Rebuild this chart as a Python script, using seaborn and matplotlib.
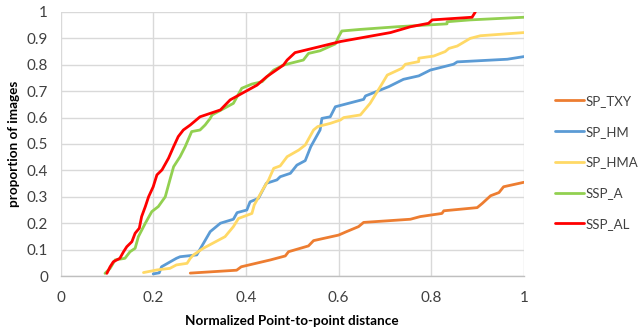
import numpy as np
import pandas as pd
import matplotlib
matplotlib.use("Agg")
import matplotlib.pyplot as plt
import seaborn as sns

series_names = ["SP_TXY", "SP_HM", "SP_HMA", "SSP_A", "SSP_AL"]
colors = ["#ED7D31", "#5B9BD5", "#FFD966", "#92D050", "#FF0000"]

txy_x = [0.28, 0.38, 0.39, 0.453, 0.485, 0.492, 0.535, 0.546, 0.600, 0.617, 0.643, 0.654,
         0.755, 0.776, 0.823, 0.827, 0.899, 0.910, 0.928, 0.946, 0.956, 1.0]
txy_y = [0.011, 0.022, 0.035, 0.061, 0.076, 0.092, 0.114, 0.134, 0.155, 0.168, 0.187, 0.203,
         0.215, 0.225, 0.237, 0.247, 0.259, 0.275, 0.304, 0.316, 0.338, 0.355]

hm_x = [0.200, 0.213, 0.218, 0.250, 0.258, 0.294, 0.323, 0.345, 0.373, 0.381, 0.402, 0.409,
        0.427, 0.444, 0.467, 0.474, 0.496, 0.510, 0.528, 0.540, 0.560, 0.564, 0.582, 0.593,
        0.654, 0.658, 0.708, 0.740, 0.773, 0.798, 0.848, 0.856, 0.964, 1.0]
hm_y = [0.008, 0.012, 0.035, 0.067, 0.073, 0.080, 0.168, 0.200, 0.215, 0.240, 0.250, 0.281,
        0.294, 0.351, 0.364, 0.376, 0.389, 0.420, 0.437, 0.490, 0.553, 0.597, 0.603, 0.641,
        0.669, 0.682, 0.717, 0.745, 0.758, 0.780, 0.802, 0.811, 0.821, 0.831]

hma_x = [0.179, 0.208, 0.236, 0.250, 0.273, 0.280, 0.287, 0.308, 0.355, 0.373, 0.384, 0.413,
         0.418, 0.438, 0.449, 0.460, 0.474, 0.489, 0.514, 0.528, 0.546, 0.555, 0.582, 0.604,
         0.611, 0.647, 0.668, 0.690, 0.705, 0.737, 0.744, 0.773, 0.773, 0.805, 0.830, 0.838,
         0.856, 0.884, 0.906, 1.0]
hma_y = [0.013, 0.023, 0.029, 0.042, 0.048, 0.067, 0.080, 0.105, 0.149, 0.187, 0.218, 0.237,
         0.269, 0.332, 0.364, 0.408, 0.417, 0.452, 0.477, 0.496, 0.553, 0.566, 0.578, 0.591,
         0.600, 0.610, 0.654, 0.717, 0.761, 0.787, 0.802, 0.812, 0.825, 0.833, 0.850, 0.862,
         0.871, 0.900, 0.910, 0.922]

a_x = [0.096, 0.107, 0.118, 0.139, 0.150, 0.161, 0.168, 0.183, 0.197, 0.211, 0.226, 0.236,
       0.244, 0.258, 0.269, 0.283, 0.301, 0.312, 0.323, 0.327, 0.373, 0.391, 0.413, 0.435,
       0.460, 0.481, 0.524, 0.535, 0.560, 0.593, 0.600, 0.607, 0.647, 0.726, 0.834, 0.834,
       0.884, 1.0]
a_y = [0.010, 0.029, 0.061, 0.067, 0.092, 0.105, 0.149, 0.200, 0.244, 0.263, 0.300, 0.364,
       0.414, 0.452, 0.490, 0.547, 0.553, 0.572, 0.597, 0.610, 0.654, 0.711, 0.727, 0.736,
       0.780, 0.799, 0.818, 0.843, 0.853, 0.879, 0.906, 0.928, 0.934, 0.944, 0.955, 0.963,
       0.970, 0.980]

al_x = [0.100, 0.107, 0.114, 0.128, 0.136, 0.143, 0.154, 0.161, 0.170, 0.175, 0.183, 0.190,
        0.200, 0.208, 0.219, 0.233, 0.244, 0.254, 0.265, 0.280, 0.301, 0.345, 0.366, 0.424,
        0.445, 0.481, 0.489, 0.506, 0.560, 0.604, 0.712, 0.755, 0.794, 0.802, 0.888, 0.895]
al_y = [0.010, 0.035, 0.054, 0.067, 0.092, 0.111, 0.130, 0.162, 0.181, 0.225, 0.263, 0.300,
        0.338, 0.383, 0.402, 0.446, 0.490, 0.528, 0.553, 0.572, 0.603, 0.629, 0.667, 0.723,
        0.755, 0.799, 0.818, 0.846, 0.869, 0.888, 0.922, 0.944, 0.957, 0.970, 0.980, 1.0]

xs = [txy_x, hm_x, hma_x, a_x, al_x]
ys = [txy_y, hm_y, hma_y, a_y, al_y]

frames = []
for name, x, y in zip(series_names, xs, ys):
    frames.append(pd.DataFrame({"x": x, "y": y, "series": name}))
df = pd.concat(frames, ignore_index=True)

sns.set_theme(style="whitegrid")
plt.rcParams["font.family"] = ["Lato", "DejaVu Sans"]

fig = plt.figure(figsize=(6.39, 3.28), dpi=100)
ax = fig.add_axes([0.0947, 0.1585, 0.7253, 0.805])

sns.lineplot(data=df, x="x", y="y", hue="series", hue_order=series_names,
             palette=dict(zip(series_names, colors)), sort=False, estimator=None,
             units="series", linewidth=2.0, ax=ax, legend=True)

ax.set_xlim(0, 1)
ax.set_ylim(0, 1)
ax.set_xticks(np.arange(0, 1.01, 0.2))
ax.set_yticks(np.arange(0, 1.01, 0.1))
ax.set_xticklabels(["0", "0.2", "0.4", "0.6", "0.8", "1"])
ax.set_yticklabels(["0", "0.1", "0.2", "0.3", "0.4", "0.5", "0.6", "0.7", "0.8", "0.9", "1"])
ax.tick_params(axis="both", length=0, labelsize=11, colors="#404040")
ax.tick_params(axis="y", pad=9)
ax.tick_params(axis="x", pad=11)
ax.grid(True, color="#d9d9d9", linewidth=1.0)
for s in ["left", "right", "top"]:
    ax.spines[s].set_visible(False)
ax.spines["bottom"].set_color("#bfbfbf")
ax.spines["bottom"].set_linewidth(1.0)

ax.set_xlabel("Normalized Point-to-point distance", fontsize=9.7, fontweight="bold",
              color="#000000", labelpad=7)
ax.set_ylabel("proportion of images", fontsize=9.7, fontweight="bold", color="#000000",
              labelpad=5)

handles, labels = ax.get_legend_handles_labels()
leg = ax.legend(handles, labels, loc="center left", bbox_to_anchor=(1.055, 0.43),
                frameon=False, fontsize=9.5, handlelength=2.2, handletextpad=0.1,
                labelspacing=1.42, borderaxespad=0)
for t in leg.get_texts():
    t.set_color("#404040")

fig.savefig("out.png", dpi=100)
